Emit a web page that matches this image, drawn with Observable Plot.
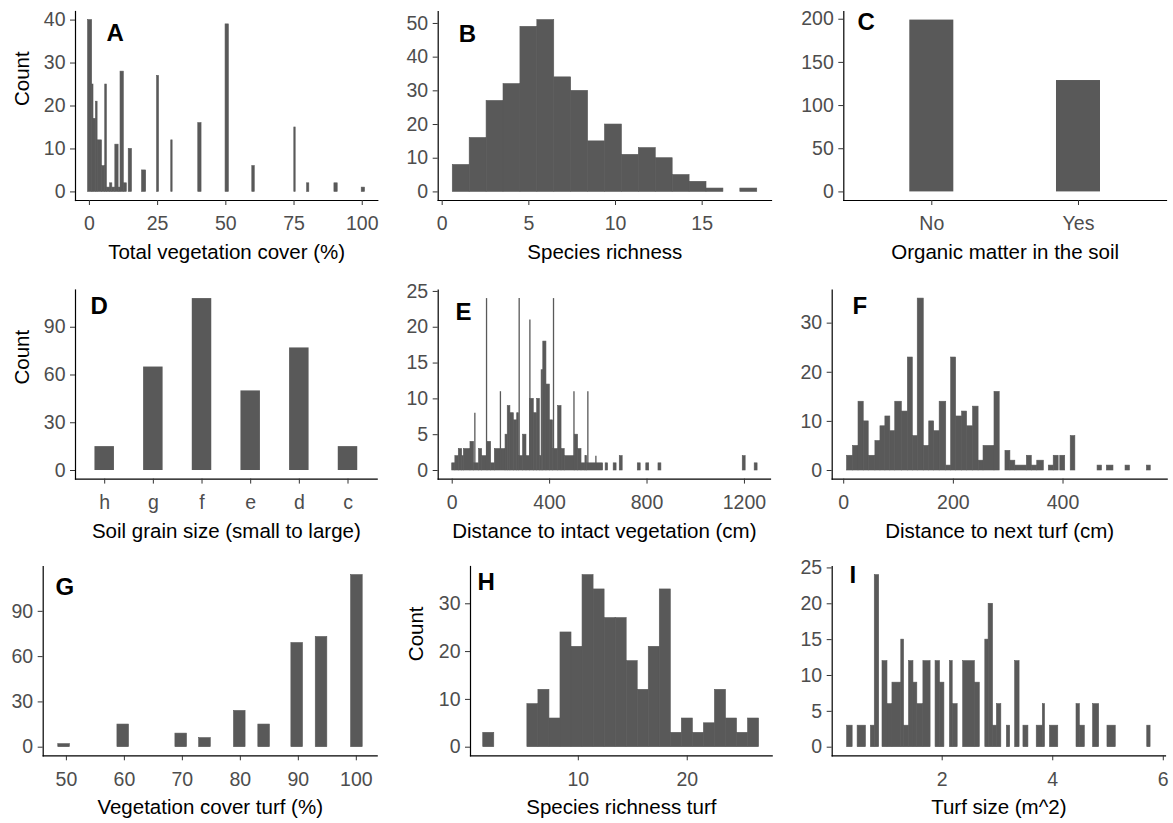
<!DOCTYPE html>
<html><head><meta charset="utf-8">
<script src="https://cdn.jsdelivr.net/npm/d3@7"></script>
<script src="https://cdn.jsdelivr.net/npm/@observablehq/plot@0.6"></script>
<style>
body{margin:0;background:#fff;}
#fig{position:relative;width:1173px;height:823px;background:#fff;}
#fig svg{position:absolute;overflow:visible;}
</style></head><body><div id="fig"></div>
<script>
// ---------- DATA ----------
// A: Total vegetation cover (%) — bins [x1,x2] with counts
const aX1 = [-0.5,1.0,1.5,2.4,3.0,4.6,5.8,6.4,7.6,8.4,9.5,10.7,11.4,12.6,14.4,19.3,24.8,30.0,39.9,49.9,59.7,75.1,79.8,89.8,99.8];
const aX2 = [1.0,1.5,2.4,3.0,4.6,5.8,6.4,7.6,8.4,9.5,10.7,11.4,12.6,13.7,15.6,20.8,25.5,30.5,41.1,51.1,60.6,75.6,80.6,91.0,101.0];
const aCount = [40,25,17,21,12,6,25,1,2,1,11,1,28,2,10,5,27,12,16,39,6,15,2,2,1];
const aXTicks = [0,25,50,75,100];
const aYTicks = [0,10,20,30,40];

// B: Species richness
const bStart = 0.61, bWidth = 0.976;
const bCount = [8,16,27,32,49,51,34,30,15,20,11,13,10,5,3,1,0,1];
const bXTicks = [0,5,10,15];
const bYTicks = [0,10,20,30,40,50];

// C: Organic matter in the soil
const cCategories = ["No","Yes"];
const cCount = [199,129];
const cYTicks = [0,50,100,150,200];

// D: Soil grain size
const dCategories = ["h","g","f","e","d","c"];
const dCount = [15,65,108,50,77,15];
const dYTicks = [0,30,60,90];

// E: Distance to intact vegetation (cm)
const eX1 = [0,13,27,41,48,75,90,110,123,145,160,175,219,228,239,253,267,274,291,305,319,335,349,360,367,374,387,401,414,435,449,462,503,517,531,547,554,630,663,688,762,797,847,1193,1242];
const eX2 = [13,27,41,48,75,90,110,123,145,160,175,219,228,239,253,267,274,291,305,319,335,349,360,367,374,387,401,414,435,449,462,503,517,531,547,554,620,640,675,700,774,809,859,1205,1254];
const eCount = [1,2,3,2,3,4,1,3,2,4,1,3,5,9,8,7,8,2,5,2,10,8,10,2,14,18,12,7,3,9,3,2,5,3,1,2,1,1,1,2,1,1,1,2,1];
const eSpikeX = [93,141,198,275,319,416,500,557,590];
const eSpikeCount = [8,24,11,24,21,24,11,11,2];
const eXTicks = [0,400,800,1200];
const eYTicks = [0,5,10,15,20,25];

// F: Distance to next turf (cm)
const fX1 = [6,17,27,36.5,45.6,57.8,67,76,85,94,106,117,126,135,146,156,165,175,187,196,205,216,225,236,246,255,275,295,304,313,334,343,353,374,383,395,414,463,480,514,553];
const fX2 = [17,27,36.5,45.6,57.8,67,76,85,94,106,117,126,135,146,156,165,175,187,196,205,216,225,236,246,255,275,284.5,304,313,334,343,353,365,383,392,404,422.5,471,492,522,560];
const fCount = [3,5,14,10,3,6,9,11,8,14,12,23,7,35,5,10,8,14,1,23,11,12,9,13,2,5,16,4,2,1,3,1,2,1,3,3,7,1,1,1,1];
const fXTicks = [0,200,400];
const fYTicks = [0,10,20,30];

// G: Vegetation cover turf (%)
const gCenters = [49.6,59.8,69.8,73.9,79.9,84.1,89.8,94,100.1];
const gWidth = 2;
const gCount = [2,15,9,6,24,15,69,73,114];
const gXTicks = [50,60,70,80,90,100];
const gYTicks = [0,30,60,90];

// H: Species richness turf
const hStart = 1.27, hWidth = 1.013;
const hCount = [3,0,0,0,9,12,6,24,21,36,33,27,27,18,12,21,33,3,6,3,5,12,6,3,6];
const hXTicks = [10,20];
const hYTicks = [0,10,20,30];

// I: Turf size (m^2)
const iX1 = [0.28,0.47,0.71,0.78,0.92,1.01,1.10,1.26,1.31,1.40,1.48,1.55,1.66,1.88,1.96,2.14,2.19,2.38,2.59,2.78,2.84,2.92,2.99,3.17,3.32,3.47,3.71,3.82,3.95,4.43,4.49,4.73,4.99,5.71];
const iX2 = [0.38,0.62,0.78,0.86,1.01,1.10,1.26,1.31,1.40,1.48,1.55,1.66,1.79,1.96,2.04,2.19,2.28,2.59,2.68,2.84,2.92,2.99,3.07,3.23,3.40,3.56,3.82,3.86,4.10,4.49,4.58,4.84,5.14,5.77];
const iCount = [3,3,3,24,12,6,9,15,3,12,9,6,12,12,9,12,6,12,9,15,20,3,6,3,12,3,3,6,3,6,3,6,3,3];
const iXTicks = [2,4,6];
const iYTicks = [0,5,10,15,20,25];

// ---------- TABLES ----------
const runs = (x1, x2, n) => x1.map((v, i) => ({x1: v, x2: x2[i], n: n[i]}));
const regular = (start, w, n) => n.map((v, i) => ({x1: start + i * w, x2: start + (i + 1) * w, n: v}));
const centered = (c, w, n) => c.map((v, i) => ({x1: v - w / 2, x2: v + w / 2, n: n[i]}));
const cats = (c, n) => c.map((v, i) => ({cat: v, n: n[i]}));

// ---------- DRAW ----------
const FONT = "'Liberation Sans', Arial, Helvetica, sans-serif";
const BAR = "#595959";
const fig = document.getElementById("fig");
const rows = [
  {top: 0, h: 275, mt: 11, mb: 75},
  {top: 275, h: 275, mt: 14.5, mb: 71.4},
  {top: 550, h: 273, mt: 16, mb: 67.7}
];
const cols = [{left: 0, w: 390}, {left: 390, w: 390}, {left: 780, w: 393}];
const yDom = counts => { const m = d3.max(counts); return [-0.05 * m, 1.05 * m]; };
const hist = data => Plot.rect(data.filter(d => d.n > 0), {x1: "x1", x2: "x2", y1: 0, y2: "n", fill: BAR, stroke: BAR, strokeWidth: 0.6, inset: 0});
const bars = data => Plot.barY(data, {x: "cat", y1: 0, y2: "n", fill: BAR, inset: 0});

function draw(p) {
  const r = rows[p.row], c = cols[p.col];
  const marks = [
    ...p.marks,
    Plot.frame({anchor: "left", stroke: "#000", strokeWidth: 1.2}),
    Plot.frame({anchor: "bottom", stroke: "#000", strokeWidth: 1.2}),
    Plot.axisX(p.xTicks, {anchor: "bottom", tickSize: 5, tickPadding: 11, fontSize: 19.5, fill: "#4d4d4d", stroke: "#333", label: null, tickFormat: d => String(d)}),
    Plot.axisY(p.yTicks, {anchor: "left", tickSize: 5, tickPadding: 5, fontSize: 19.5, fill: "#4d4d4d", stroke: "#333", label: null, tickFormat: d => String(d)}),
    Plot.text([p.xTitle], {text: d => d, frameAnchor: "bottom", dy: 52, lineAnchor: "middle", fontSize: 20.5, fill: "#000"}),
    Plot.text([p.tag], {text: d => d, frameAnchor: "top-left", dx: p.tagDx, dy: p.tagDy, textAnchor: "start", lineAnchor: "top", fontSize: 24, fontWeight: "bold", fill: "#000"})
  ];
  if (p.yTitle) marks.push(Plot.text([p.yTitle], {text: d => d, frameAnchor: "left", dx: p.yTitleDx, rotate: -90, fontSize: 20.5, fill: "#000"}));
  const svg = Plot.plot({
    width: c.w, height: r.h,
    marginTop: r.mt, marginBottom: r.mb, marginLeft: p.ml, marginRight: p.mr,
    x: p.x, y: {domain: p.yDomain},
    style: {fontFamily: FONT, background: "transparent", overflow: "visible"},
    marks
  });
  svg.style.left = c.left + "px";
  svg.style.top = r.top + "px";
  fig.appendChild(svg);
}

draw({row: 0, col: 0, ml: 75, mr: 12.7, x: {domain: [-5.1, 105.7]}, yDomain: yDom(aCount),
  marks: [hist(runs(aX1, aX2, aCount))], xTicks: aXTicks, yTicks: aYTicks,
  xTitle: "Total vegetation cover (%)", yTitle: "Count", yTitleDx: -53, tag: "A", tagDx: 31, tagDy: 12});

draw({row: 0, col: 1, ml: 47.7, mr: 9, x: {domain: [-0.23, 19.0]}, yDomain: yDom(bCount),
  marks: [hist(regular(bStart, bWidth, bCount))], xTicks: bXTicks, yTicks: bYTicks,
  xTitle: "Species richness", tag: "B", tagDx: 20.6, tagDy: 13});

draw({row: 0, col: 2, ml: 63.3, mr: 7, x: {type: "band", domain: cCategories, paddingInner: 0.7, paddingOuter: 0.45, round: false}, yDomain: yDom(cCount),
  marks: [bars(cats(cCategories, cCount))], xTicks: cCategories, yTicks: cYTicks,
  xTitle: "Organic matter in the soil", tag: "C", tagDx: 13.7, tagDy: 1});

draw({row: 1, col: 0, ml: 75, mr: 13.3, x: {type: "band", domain: dCategories, paddingInner: 0.6, paddingOuter: 0.4, round: false}, yDomain: yDom(dCount),
  marks: [bars(cats(dCategories, dCount))], xTicks: dCategories, yTicks: dYTicks,
  xTitle: "Soil grain size (small to large)", yTitle: "Count", yTitleDx: -53, tag: "D", tagDx: 15, tagDy: 7});

draw({row: 1, col: 1, ml: 47.7, mr: 10, x: {domain: [-57.5, 1307]}, yDomain: yDom(eSpikeCount),
  marks: [hist(runs(eX1, eX2, eCount)),
    Plot.ruleX(eSpikeX.map((v, i) => ({x: v, n: eSpikeCount[i]})), {x: "x", y1: 0, y2: "n", stroke: BAR, strokeWidth: 1.3})],
  xTicks: eXTicks, yTicks: eYTicks,
  xTitle: "Distance to intact vegetation (cm)", tag: "E", tagDx: 17.3, tagDy: 13});

draw({row: 1, col: 2, ml: 51.7, mr: 6.3, x: {domain: [-21, 590]}, yDomain: yDom(fCount),
  marks: [hist(runs(fX1, fX2, fCount))], xTicks: fXTicks, yTicks: fYTicks,
  xTitle: "Distance to next turf (cm)", tag: "F", tagDx: 20.3, tagDy: 7});

draw({row: 2, col: 0, ml: 42.7, mr: 13.3, x: {domain: [46, 103.6]}, yDomain: yDom(gCount),
  marks: [hist(centered(gCenters, gWidth, gCount))], xTicks: gXTicks, yTicks: gYTicks,
  xTitle: "Vegetation cover turf (%)", tag: "G", tagDx: 12.3, tagDy: 11});

draw({row: 2, col: 1, ml: 80, mr: 8.3, x: {domain: [0.1, 27.8]}, yDomain: yDom(hCount),
  marks: [hist(regular(hStart, hWidth, hCount))], xTicks: hXTicks, yTicks: hYTicks,
  xTitle: "Species richness turf", yTitle: "Count", yTitleDx: -54, tag: "H", tagDx: 7, tagDy: 6});

draw({row: 2, col: 2, ml: 51.7, mr: 8, x: {domain: [0.01, 6.04]}, yDomain: yDom(iCount),
  marks: [hist(runs(iX1, iX2, iCount))], xTicks: iXTicks, yTicks: iYTicks,
  xTitle: "Turf size (m^2)", tag: "I", tagDx: 17.3, tagDy: -1});
</script>
</body></html>
